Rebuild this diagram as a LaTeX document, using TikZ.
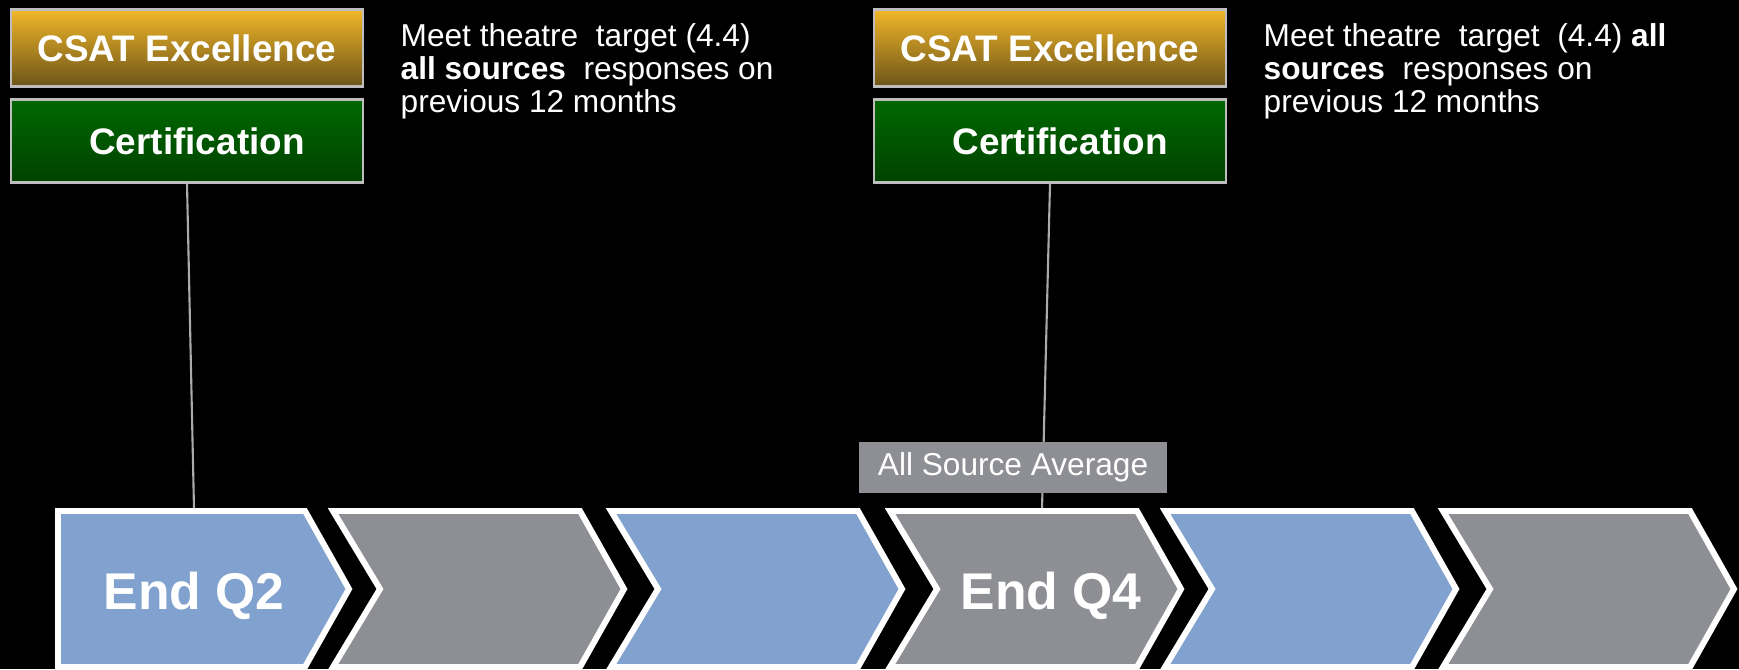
\documentclass[tikz,border=0pt]{standalone}
\usepackage{fontspec}
\setmainfont{Liberation Sans}
\usepackage{xcolor}
\usepackage{tikz}
\usetikzlibrary{calc,positioning}

\definecolor{chevblue}{RGB}{129,161,206}
\definecolor{chevgray}{RGB}{142,143,148}
\definecolor{goldtop}{RGB}{242,183,42}
\definecolor{goldbot}{RGB}{108,84,24}
\definecolor{greentop}{RGB}{0,104,0}
\definecolor{greenbot}{RGB}{0,66,0}
\definecolor{boxedge}{RGB}{190,190,190}
\definecolor{linkgray}{RGB}{170,170,170}

\begin{document}
\begin{tikzpicture}[
  chev/.style={draw=white,line width=1.7pt,line join=miter},
  csatbox/.style={draw=boxedge,line width=0.6pt,top color=goldtop,bottom color=goldbot,
    minimum width=3.52cm,minimum height=0.77cm,inner sep=0pt,text=white,
    font=\fontsize{10.5}{12}\selectfont\bfseries},
  certbox/.style={csatbox,top color=greentop,bottom color=greenbot,minimum height=0.83cm},
  note/.style={anchor=north west,align=left,inner sep=0pt,text=white,
    font=\fontsize{9}{9.4}\selectfont},
  avgbox/.style={fill=chevgray,minimum width=3.08cm,minimum height=0.51cm,inner sep=0pt,
    text=white,font=\fontsize{9}{10}\selectfont},
  endlabel/.style={anchor=base,inner sep=0pt,text=white,font=\fontsize{14.7}{16}\selectfont\bfseries},
  link/.style={draw=linkgray,line width=0.6pt}
]
 \useasboundingbox (0,0) rectangle (17.39,6.69);
 \fill[black] (0,0) rectangle (17.39,6.69);

 % boxes on top
 \node[csatbox] (csat1) at (1.87,6.21) {CSAT Excellence};
 \node[certbox] (cert1) at (1.87,5.28) {\hspace{2mm}Certification};
 \node[note] (goal1) at (4.00,6.46) {Meet theatre\ \ target (4.4)\\\textbf{all sources}\ \ responses on\\previous 12 months};

 \node[csatbox] (csat2) at (10.50,6.21) {CSAT Excellence};
 \node[certbox] (cert2) at (10.50,5.28) {\hspace{2mm}Certification};
 \node[note] (goal2) at (12.63,6.46) {Meet theatre\ \ target\ \ (4.4) \textbf{all}\\\textbf{sources}\ \ responses on\\previous 12 months};

 % where the lines meet the chevrons
 \coordinate (top1) at (1.94,1.60);
 \coordinate (top4) at (10.42,1.60);
 \draw[link] (cert1.south) -- (top1);
 \draw[link] (cert2.south) -- (top4);

 \node[avgbox] (avg) at (10.13,2.015) {All Source Average};

 % chevron strip
 \draw[chev,fill=chevblue] (0.58,1.58) -- (3.05,1.58) -- (3.49,0.80) -- (3.05,0.02) -- (0.58,0.02) -- cycle;
 \draw[chev,fill=chevgray] (3.33,1.58) -- (5.80,1.58) -- (6.24,0.80) -- (5.80,0.02) -- (3.33,0.02) -- (3.80,0.80) -- cycle;
 \draw[chev,fill=chevblue] (6.11,1.58) -- (8.58,1.58) -- (9.02,0.80) -- (8.58,0.02) -- (6.11,0.02) -- (6.58,0.80) -- cycle;
 \draw[chev,fill=chevgray] (8.90,1.58) -- (11.37,1.58) -- (11.81,0.80) -- (11.37,0.02) -- (8.90,0.02) -- (9.37,0.80) -- cycle;
 \draw[chev,fill=chevblue] (11.65,1.58) -- (14.12,1.58) -- (14.56,0.80) -- (14.12,0.02) -- (11.65,0.02) -- (12.12,0.80) -- cycle;
 \draw[chev,fill=chevgray] (14.43,1.58) -- (16.90,1.58) -- (17.34,0.80) -- (16.90,0.02) -- (14.43,0.02) -- (14.90,0.80) -- cycle;

 \node[endlabel] (q2) at (1.94,0.60) {End Q2};
 \node[endlabel] (q4) at (10.51,0.60) {End Q4};
\end{tikzpicture}
\end{document}
